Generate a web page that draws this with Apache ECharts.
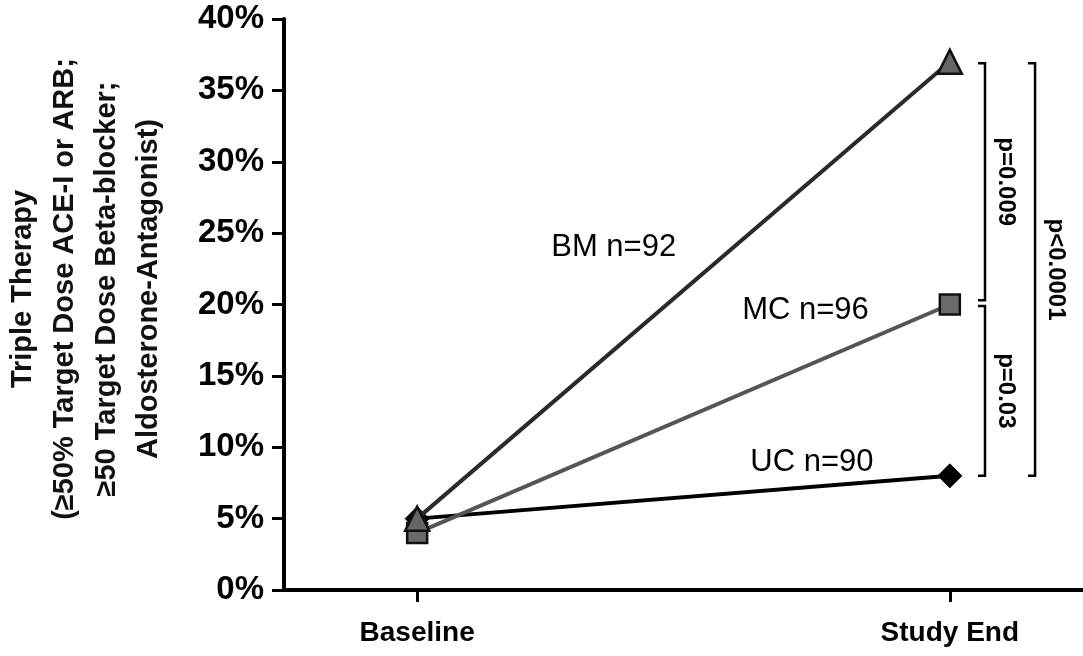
<!DOCTYPE html>
<html><head><meta charset="utf-8">
<script src="https://cdn.jsdelivr.net/npm/echarts@6/dist/echarts.min.js"></script>
<style>html,body{margin:0;padding:0;background:#fff}#c{width:1083px;height:656px}</style>
</head><body><div id="c"></div>
<script>
const categories = ['Baseline', 'Study End'];
const categoryPos = [0, 1];
const bmValues = [5, 37];
const mcValues = [4, 20];
const ucValues = [5, 8];
const seriesLabels = ['BM n=92', 'MC n=96', 'UC n=90'];
const labelPos = [[0.369, 24.0], [0.729, 19.6], [0.741, 8.95]];
const yTicks = [0, 5, 10, 15, 20, 25, 30, 35, 40];
const brackets = [
  { x: 1.066, top: 36.9, bottom: 20.3, text: 'p=0.009' },
  { x: 1.066, top: 19.9, bottom: 8.0, text: 'p=0.03' },
  { x: 1.16, top: 36.9, bottom: 8.0, text: 'p<0.0001' }
];
const yTitle = 'Triple Therapy\n(≥50% Target Dose ACE-I or ARB;\n≥50 Target Dose Beta-blocker;\nAldosterone-Antagonist)';

const FONT = '"Liberation Sans", Arial, sans-serif';
const chart = echarts.init(document.getElementById('c'));
const pts = v => categoryPos.map((x, i) => [x, v[i]]);

chart.setOption({
  animation: false,
  backgroundColor: '#fff',
  grid: { left: 284, right: 0, top: 19, bottom: 66, containLabel: false },
  xAxis: {
    type: 'value', min: -0.25, max: 1.25,
    splitLine: { show: false },
    axisLine: { show: true, onZero: false, lineStyle: { color: '#000', width: 4 } },
    axisTick: { show: true, length: 12, lineStyle: { color: '#000', width: 3 }, customValues: categoryPos },
    axisLabel: { customValues: categoryPos, margin: 29, color: '#000', fontSize: 28, fontWeight: 'bold', fontFamily: FONT,
      formatter: v => categories[categoryPos.indexOf(Math.round(v))] || '' }
  },
  yAxis: {
    type: 'value', min: 0, max: 40, interval: 5,
    splitLine: { show: false },
    axisLine: { show: true, onZero: false, lineStyle: { color: '#000', width: 4 } },
    axisTick: { show: true, length: 12, lineStyle: { color: '#000', width: 3 } },
    axisLabel: { margin: 20, color: '#000', fontSize: 33, fontWeight: 'bold', fontFamily: FONT, formatter: '{value}%' }
  },
  graphic: [{
    type: 'text', x: 86, y: 289, rotation: Math.PI / 2,
    style: { text: yTitle, fill: '#111', font: 'bold 29px ' + FONT, lineHeight: 42, align: 'center', verticalAlign: 'middle' }
  }],
  series: [
    { type: 'line', data: pts(ucValues), symbol: 'diamond', symbolSize: 24, z: 3,
      lineStyle: { color: '#000', width: 4 }, itemStyle: { color: '#000', borderColor: '#000' } },
    { type: 'line', data: pts(mcValues), symbol: 'rect', symbolSize: 20, z: 4,
      lineStyle: { color: '#555', width: 4 }, itemStyle: { color: '#6a6a6a', borderColor: '#111', borderWidth: 2.5 } },
    { type: 'line', data: pts(bmValues), symbol: 'triangle', symbolSize: 24, z: 5,
      lineStyle: { color: '#2a2a2a', width: 4 }, itemStyle: { color: '#666', borderColor: '#111', borderWidth: 2.5 } },
    { type: 'custom', silent: true, z: 6,
      data: labelPos,
      renderItem: (params, api) => {
        const p = api.coord([api.value(0), api.value(1)]);
        return { type: 'text', x: p[0], y: p[1],
          style: { text: seriesLabels[params.dataIndex], fill: '#000', font: '31px ' + FONT, align: 'center', verticalAlign: 'middle' } };
      } },
    { type: 'custom', silent: true, z: 6,
      data: brackets.map(b => [b.x, b.top, b.bottom]),
      renderItem: (params, api) => {
        const b = brackets[params.dataIndex];
        const p1 = api.coord([api.value(0), api.value(1)]);
        const p2 = api.coord([api.value(0), api.value(2)]);
        const cap = 7;
        const ls = { stroke: '#000', lineWidth: 2.5, fill: null };
        return { type: 'group', children: [
          { type: 'polyline', shape: { points: [[p1[0] - cap, p1[1]], [p1[0], p1[1]], [p2[0], p2[1]], [p2[0] - cap, p2[1]]] }, style: ls },
          { type: 'text', x: p1[0] + 21, y: (p1[1] + p2[1]) / 2, rotation: -Math.PI / 2,
            style: { text: b.text, fill: '#000', font: 'bold 24px ' + FONT, align: 'center', verticalAlign: 'middle' } }
        ]};
      } }
  ]
});
</script></body></html>
